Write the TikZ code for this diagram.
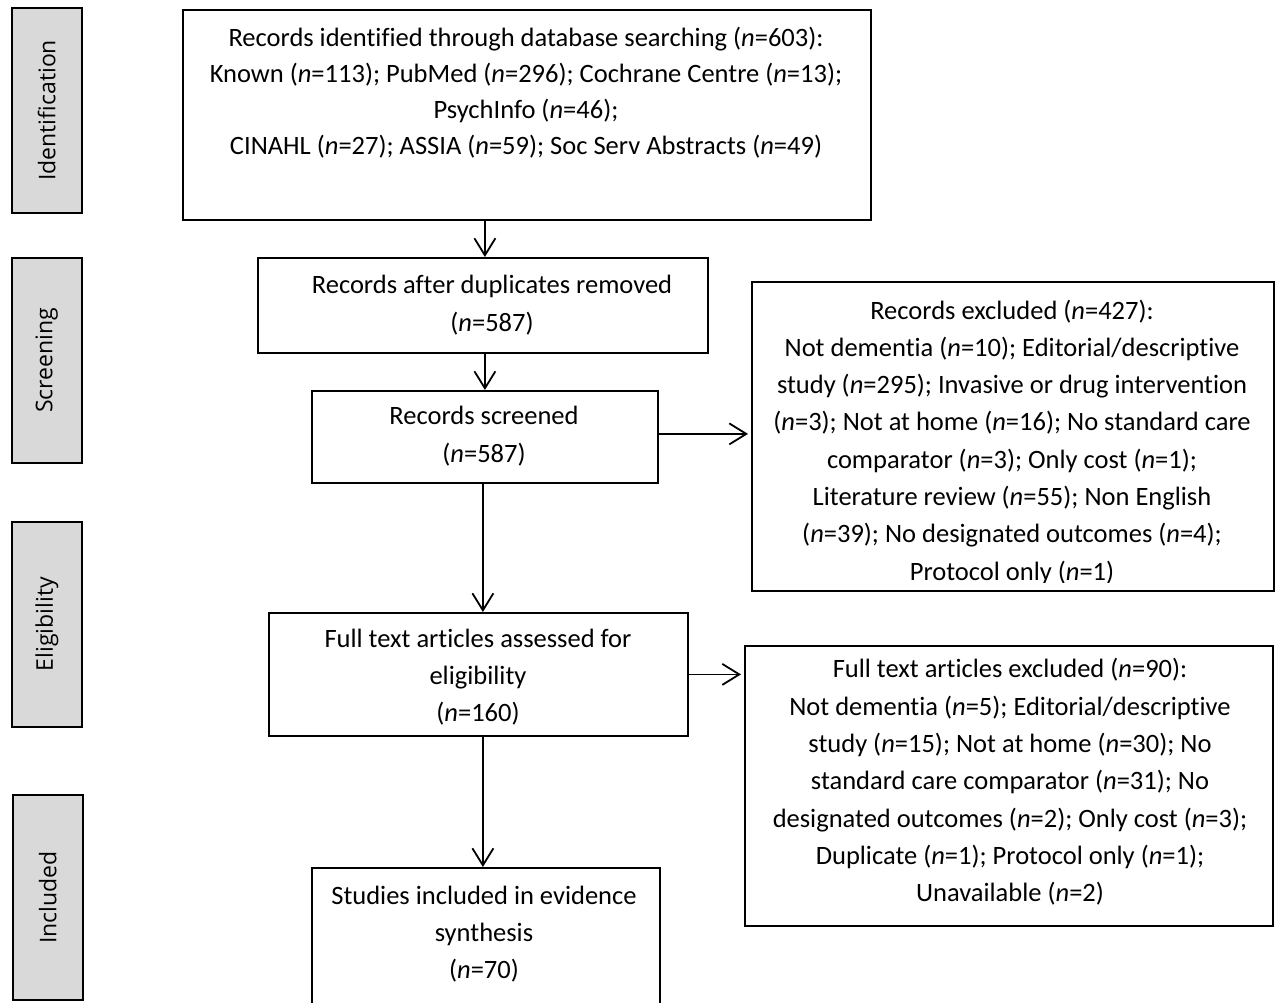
\documentclass[tikz,border=0pt]{standalone}
\usepackage{fontspec}
\setmainfont[Ligatures=CommonOff]{Carlito}
\newfontfamily\sidefont{Open Sans}
\usetikzlibrary{arrows.meta}
\newcommand\nn{\textit{n}}
\definecolor{sidegray}{HTML}{D9D9D9}
\begin{document}
\begin{tikzpicture}[x=1pt,y=-1pt,
  box/.style={draw=black, line width=1.8pt, fill=white, inner sep=0pt, anchor=north west},
  side/.style={draw=black, line width=1.6pt, fill=sidegray, inner sep=0pt, anchor=north west,
    minimum width=70pt, minimum height=205pt},
  sidetext/.style={rotate=90, font=\sidefont\fontsize{23}{28}\selectfont, inner sep=0pt},
  txt/.style={align=center, inner sep=0pt, font=\fontsize{26.5}{37.3}\selectfont},
  arr/.style={draw=black, line width=1.8pt, -{Straight Barb[length=17pt,width=21pt,line width=1.8pt]}}
]
\useasboundingbox (0,0) rectangle (1280,1003);
\fill[white] (0,0) rectangle (1280,1003);

% side labels
\node[side] (s1) at (11,7) {};
\node[sidetext] (t1) at (s1.center) {Identification};
\node[side] (s2) at (11,257) {};
\node[sidetext] (t2) at (s2.center) {Screening};
\node[side] (s3) at (11,521) {};
\node[sidetext] (t3) at (s3.center) {Eligibility};
\node[side] (s4) at (12,794) {};
\node[sidetext] (t4) at (s4.center) {Included};

% main boxes
\node[box, minimum width=688pt, minimum height=210pt] (b1) at (182,9) {};
\node[txt, font=\fontsize{26.5}{36}\selectfont] (l1) at (526,93) {Records identified through database searching (\nn=603):\\
Known (\nn=113); PubMed (\nn=296); Cochrane Centre (\nn=13);\\
PsychInfo (\nn=46);\\
CINAHL (\nn=27); ASSIA (\nn=59); Soc Serv Abstracts (\nn=49)};

\node[box, minimum width=450pt, minimum height=95pt] (b2) at (257,257) {};
\node[txt] (l2) at (492,305) {Records after duplicates removed\\(\nn=587)};

\node[box, minimum width=346pt, minimum height=92pt] (b3) at (311,390) {};
\node[txt] (l3) at (484,436) {Records screened\\(\nn=587)};

\node[box, minimum width=522pt, minimum height=309pt] (b4) at (751,281) {};
\begin{scope}
\clip ([shift={(0.9pt,9pt)}]b4.south west) rectangle ([shift={(-0.9pt,-0.9pt)}]b4.north east);
\node[txt] (l4) at (1012,442) {Records excluded (\nn=427):\\
Not dementia (\nn=10); Editorial/descriptive\\
study (\nn=295); Invasive or drug intervention\\
(\nn=3); Not at home (\nn=16); No standard care\\
comparator (\nn=3); Only cost (\nn=1);\\
Literature review (\nn=55); Non English\\
(\nn=39); No designated outcomes (\nn=4);\\
Protocol only (\nn=1)};
\end{scope}

\node[box, minimum width=419pt, minimum height=123pt] (b5) at (268,612) {};
\node[txt] (l5) at (478,677) {Full text articles assessed for\\eligibility\\(\nn=160)};

\node[box, minimum width=528pt, minimum height=280pt] (b6) at (744,645) {};
\node[txt] (l6) at (1010,782) {Full text articles excluded (\nn=90):\\
Not dementia (\nn=5); Editorial/descriptive\\
study (\nn=15); Not at home (\nn=30); No\\
standard care comparator (\nn=31); No\\
designated outcomes (\nn=2); Only cost (\nn=3);\\
Duplicate (\nn=1); Protocol only (\nn=1);\\
Unavailable (\nn=2)};

\node[box, minimum width=348pt, minimum height=150pt] (b7) at (311,867) {};
\node[txt] (l7) at (484,934) {Studies included in evidence\\synthesis\\(\nn=70)};

% connectors
\draw[arr] (b3.north |- b1.south) -- (b3.north |- b2.north);
\draw[arr] (b3.north |- b2.south) -- (b3.north);
\draw[arr] ([yshift=3pt]b3.east) -- ([xshift=-3pt,yshift=3pt]b4.west |- b3.east);
\draw[arr] ([xshift=-2pt]b3.south) -- ([xshift=-2pt]b3.south |- b5.north);
\draw[arr] (b5.east) -- ([xshift=-3pt]b6.west |- b5.east);
\draw[arr] ([xshift=-2pt]b3.south |- b5.south) -- ([xshift=-2pt]b3.south |- b7.north);
\end{tikzpicture}
\end{document}
